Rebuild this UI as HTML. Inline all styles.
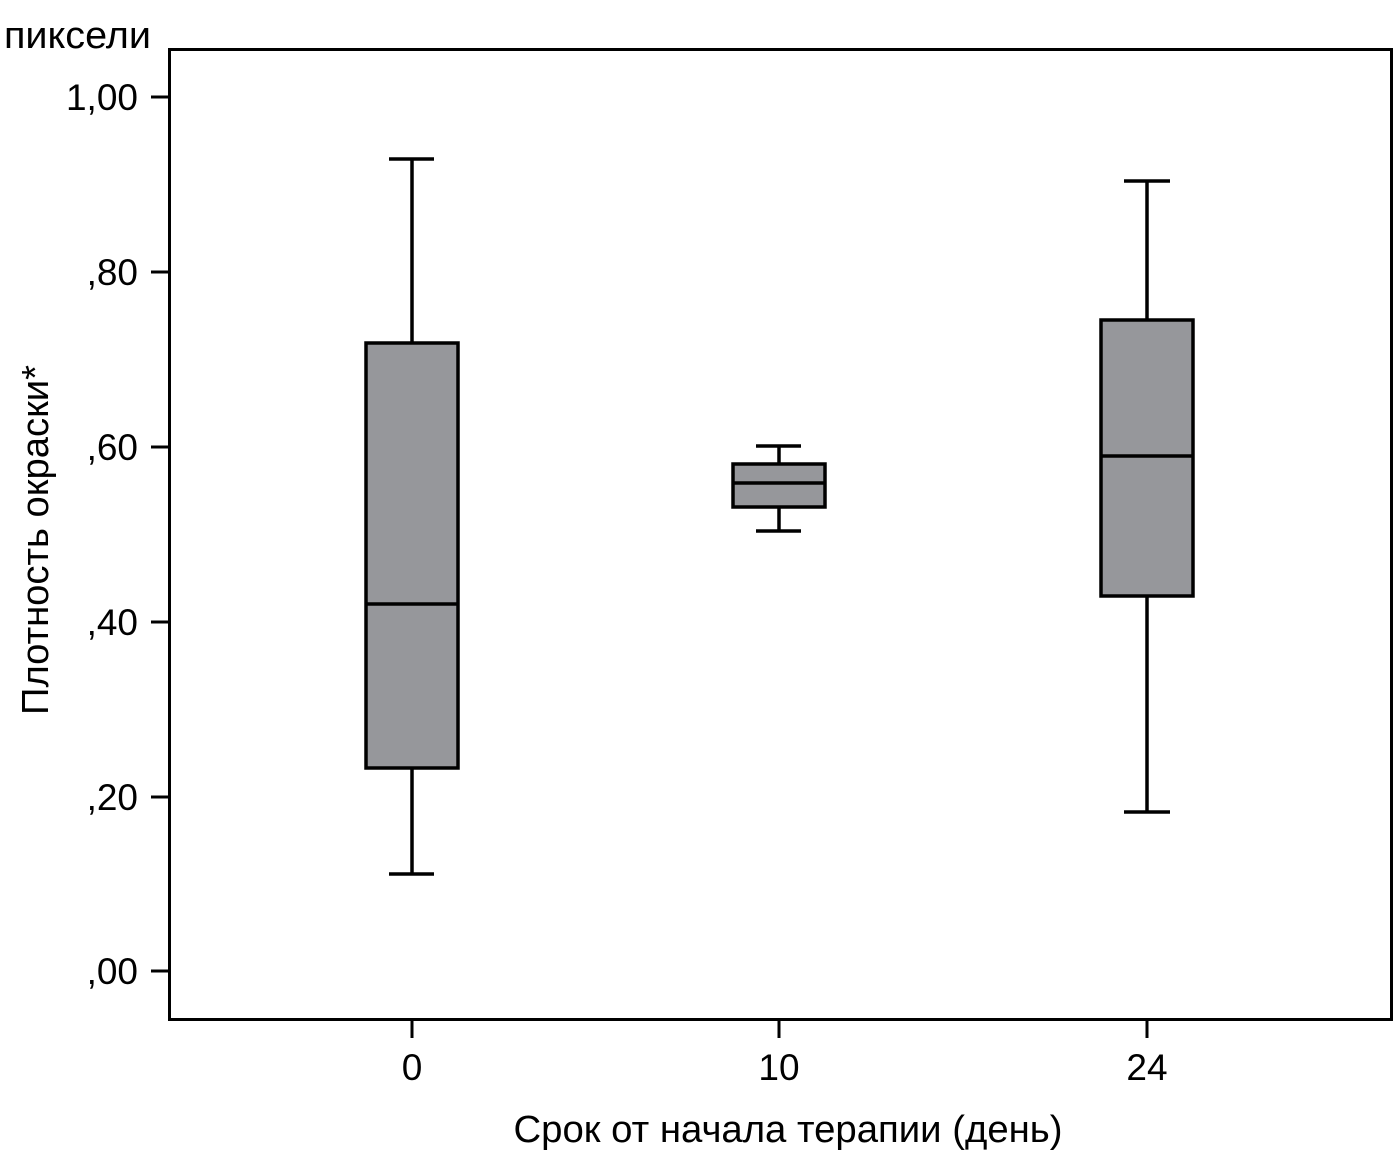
<!DOCTYPE html>
<html><head><meta charset="utf-8"><style>body{margin:0;background:#fff}svg{display:block}</style></head><body>
<svg width="1395" height="1162" xmlns="http://www.w3.org/2000/svg" font-family="'Liberation Sans', sans-serif" fill="#000">
<rect x="169.5" y="49.5" width="1222" height="970" fill="none" stroke="#000" stroke-width="3"/>
<text x="4" y="48" font-size="38" textLength="147" lengthAdjust="spacingAndGlyphs">пиксели</text>
<g stroke="#000" stroke-width="3">
<line x1="151" y1="97" x2="169" y2="97"/><line x1="151" y1="272" x2="169" y2="272"/><line x1="151" y1="447" x2="169" y2="447"/>
<line x1="151" y1="622" x2="169" y2="622"/><line x1="151" y1="797" x2="169" y2="797"/><line x1="151" y1="971" x2="169" y2="971"/>
<line x1="412" y1="1020" x2="412" y2="1038"/><line x1="779" y1="1020" x2="779" y2="1038"/><line x1="1147" y1="1020" x2="1147" y2="1038"/>
</g>
<g font-size="37" text-anchor="end">
<text x="138" y="110">1,00</text><text x="138" y="285">,80</text><text x="138" y="460">,60</text>
<text x="138" y="635">,40</text><text x="138" y="810">,20</text><text x="138" y="984">,00</text>
</g>
<g font-size="37" text-anchor="middle">
<text x="412" y="1080">0</text><text x="779" y="1080">10</text><text x="1147" y="1080">24</text>
<text x="788" y="1142" font-size="38" textLength="549" lengthAdjust="spacingAndGlyphs">Срок от начала терапии (день)</text>
</g>
<text transform="translate(48,540) rotate(-90)" font-size="38" text-anchor="middle" textLength="350" lengthAdjust="spacingAndGlyphs">Плотность окраски*</text>
<g stroke="#000" stroke-width="3.5">
<line x1="412" y1="159" x2="412" y2="874"/><line x1="389" y1="159" x2="434" y2="159"/><line x1="389" y1="874" x2="434" y2="874"/>
<rect x="366" y="343" width="92" height="425" fill="#96979b"/><line x1="366" y1="604" x2="458" y2="604"/>
<line x1="779" y1="446" x2="779" y2="531"/><line x1="756" y1="446" x2="801" y2="446"/><line x1="756" y1="531" x2="801" y2="531"/>
<rect x="733" y="464" width="92" height="43" fill="#96979b"/><line x1="733" y1="483" x2="825" y2="483"/>
<line x1="1147" y1="181" x2="1147" y2="812"/><line x1="1124" y1="181" x2="1170" y2="181"/><line x1="1124" y1="812" x2="1170" y2="812"/>
<rect x="1101" y="320" width="92" height="276" fill="#96979b"/><line x1="1101" y1="456" x2="1193" y2="456"/>
</g>
</svg>
</body></html>
